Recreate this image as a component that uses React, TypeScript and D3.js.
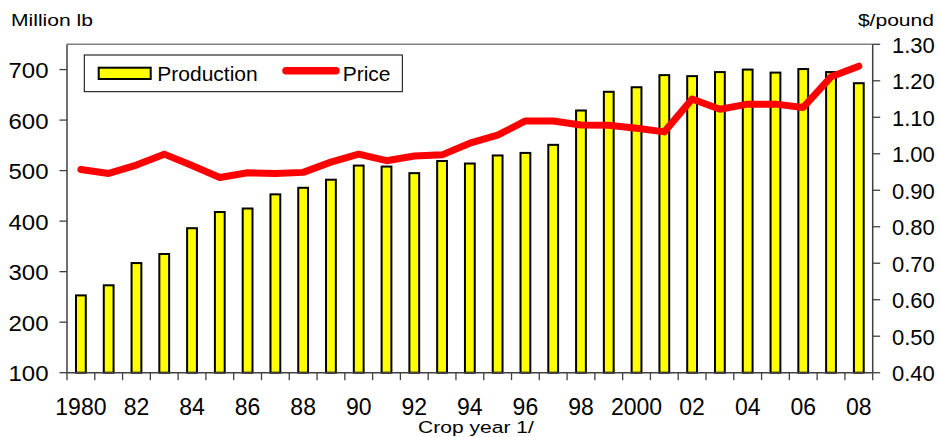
import React from "react";
import * as d3 from "d3";

const years: number[] = d3.range(1980, 2009);
const production: number[] = [253, 273, 317, 335, 386, 418, 425, 453, 466, 482, 510, 508, 495, 519, 514, 530, 535, 551, 619, 656, 665, 689, 687, 695, 700, 694, 701, 695, 673];
const price: number[] = [0.957, 0.946, 0.969, 0.999, 0.968, 0.935, 0.948, 0.946, 0.949, 0.977, 0.999, 0.981, 0.994, 0.997, 1.029, 1.051, 1.09, 1.09, 1.079, 1.078, 1.07, 1.06, 1.15, 1.122, 1.136, 1.136, 1.127, 1.211, 1.24];
const leftTicks: number[] = [100, 200, 300, 400, 500, 600, 700];
const rightTicks: number[] = [0.4, 0.5, 0.6, 0.7, 0.8, 0.9, 1.0, 1.1, 1.2, 1.3];
const xLabelYears: number[] = years.filter((y) => y % 2 === 0);
const xLabel = (y: number) => (y === 1980 || y === 2000 ? String(y) : String(y).slice(2));

const W = 940;
const H = 437;
const L = 67;
const R = 872.7;
const T = 44.3;
const B = 372.7;
const FONT = "Liberation Sans, Arial, Helvetica, sans-serif";

export default function App() {
  const x = d3.scaleBand<number>().domain(years).range([L, R]).paddingInner(0).paddingOuter(0);
  const yL = d3.scaleLinear().domain([100, 750]).range([B, T]);
  const yR = d3.scaleLinear().domain([0.4, 1.3]).range([B, T]);
  const bw = 9.8;
  const line = d3
    .line<number>()
    .x((_, i) => (x(years[i]) as number) + x.bandwidth() / 2)
    .y((d) => yR(d));

  const tickStroke = "#404040";

  return (
    <svg width={W} height={H} style={{ position: "absolute", left: 0, top: 0, background: "#fff" }} fontFamily={FONT}>
      <rect x={0} y={0} width={W} height={H} fill="#fff" />
      {/* plot top border */}
      <line x1={L} x2={R} y1={T} y2={T} stroke="#808080" strokeWidth={1.5} />

      {/* bars */}
      {production.map((v, i) => {
        const cx = (x(years[i]) as number) + x.bandwidth() / 2;
        return (
          <rect
            key={years[i]}
            x={cx - bw / 2}
            y={yL(v)}
            width={bw}
            height={B - yL(v)}
            fill="#FFFF00"
            stroke="#000"
            strokeWidth={2}
          />
        );
      })}

      {/* axes */}
      <line x1={L} x2={L} y1={T} y2={B} stroke={tickStroke} strokeWidth={1.5} />
      <line x1={R} x2={R} y1={T} y2={B} stroke={tickStroke} strokeWidth={1.5} />
      <line x1={L} x2={R} y1={B} y2={B} stroke={tickStroke} strokeWidth={1.5} />

      {/* left ticks */}
      {leftTicks.map((t) => (
        <g key={"l" + t}>
          <line x1={L - 7.5} x2={L} y1={yL(t)} y2={yL(t)} stroke={tickStroke} strokeWidth={1.3} />
          <text
            transform={`translate(48.5,${yL(t) + 1}) scale(1.09,1)`}
            textAnchor="end"
            dominantBaseline="central"
            fontSize={22}
            fill="#000"
          >
            {t}
          </text>
        </g>
      ))}

      {/* right ticks */}
      {rightTicks.map((t) => (
        <g key={"r" + t}>
          <line x1={R} x2={R + 7.5} y1={yR(t)} y2={yR(t)} stroke={tickStroke} strokeWidth={1.3} />
          <text x={892} y={yR(t) + 1} dominantBaseline="central" fontSize={22} fill="#000">
            {t.toFixed(2)}
          </text>
        </g>
      ))}

      {/* x ticks */}
      {years.concat([2009]).map((yr, i) => {
        const px = L + i * x.bandwidth();
        return <line key={"x" + yr} x1={px} x2={px} y1={B} y2={B + 7.5} stroke={tickStroke} strokeWidth={1.3} />;
      })}
      {xLabelYears.map((yr) => (
        <text
          key={"xl" + yr}
          x={(x(yr) as number) + x.bandwidth() / 2}
          y={415}
          textAnchor="middle"
          fontSize={23}
          fill="#000"
        >
          {xLabel(yr)}
        </text>
      ))}

      {/* price line */}
      <path d={line(price) || ""} fill="none" stroke="#FF0000" strokeWidth={7} strokeLinejoin="round" strokeLinecap="round" />

      {/* legend */}
      <rect x={84.3} y={55} width={318} height={36.7} fill="#fff" stroke="#000" strokeWidth={1} />
      <rect x={98.7} y={67.7} width={52} height={11.3} fill="#FFFF00" stroke="#000" strokeWidth={2} />
      <text x={157.3} y={81} fontSize={21} fill="#000">
        Production
      </text>
      <line x1={286} x2={336} y1={70.8} y2={70.8} stroke="#FF0000" strokeWidth={7.5} strokeLinecap="round" />
      <text x={342.7} y={81} fontSize={21} fill="#000">
        Price
      </text>

      {/* axis titles */}
      <text transform="translate(11,26) scale(1.24,1)" fontSize={17} fill="#000">
        Million lb
      </text>
      <text transform="translate(934,25.5) scale(1.24,1)" textAnchor="end" fontSize={17} fill="#000">
        $/pound
      </text>
      <text transform="translate(476,432.5) scale(1.24,1)" textAnchor="middle" fontSize={17} fill="#000">
        Crop year 1/
      </text>
    </svg>
  );
}
